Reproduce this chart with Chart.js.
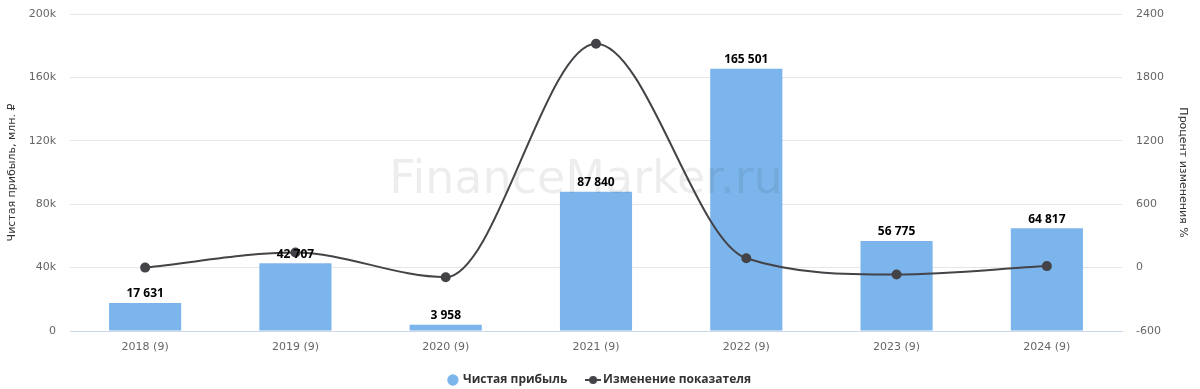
<!DOCTYPE html>
<html>
<head>
<meta charset="utf-8">
<script src="https://cdn.jsdelivr.net/npm/chart.js@4.4.1/dist/chart.umd.min.js"></script>
<style>
  html, body { margin: 0; padding: 0; background: #fff; }
  #wrap { width: 1200px; height: 389px; }
</style>
</head>
<body>
<div id="wrap"><canvas id="myChart" width="1200" height="389"></canvas></div>
<script>
const years = ['2018 (9)', '2019 (9)', '2020 (9)', '2021 (9)', '2022 (9)', '2023 (9)', '2024 (9)'];
const profit = [17631, 42707, 3958, 87840, 165501, 56775, 64817];
const change = [0, 142.2, -90.7, 2119.3, 88.4, -65.7, 14.2];
const leftTicks = [0, 40000, 80000, 120000, 160000, 200000];
const rightTicks = [-600, 0, 600, 1200, 1800, 2400];

const font = '"DejaVu Sans", Verdana, sans-serif';
const boldFont = '"Open Sans", "DejaVu Sans", sans-serif';
const ctx = document.getElementById('myChart').getContext('2d');

function fmt(n) {
    return String(n).replace(/\B(?=(\d{3})+(?!\d))/g, ' ');
}

// маркер легенды для линии: отрезок с точкой
function lineMarker() {
    const c = document.createElement('canvas');
    c.width = 16; c.height = 10;
    const g = c.getContext('2d');
    g.strokeStyle = '#434348';
    g.lineWidth = 2;
    g.beginPath(); g.moveTo(0, 5); g.lineTo(16, 5); g.stroke();
    g.fillStyle = '#434348';
    g.beginPath(); g.arc(8, 5, 4, 0, Math.PI * 2); g.fill();
    return c;
}

// водяной знак поверх столбцов, но под линией
const watermark = {
    id: 'watermark',
    afterDatasetDraw(chart, args) {
        if (args.index !== 1) return;
        const a = chart.chartArea;
        const c = chart.ctx;
        c.save();
        c.font = '46px ' + font;
        c.fillStyle = 'rgba(0,0,0,0.07)';
        c.textAlign = 'center';
        c.textBaseline = 'alphabetic';
        c.fillText('FinanceMarker.ru', (a.left + a.right) / 2 - 10, (a.top + a.bottom) / 2 + 20);
        c.restore();
    }
};

const barLabels = {
    id: 'barLabels',
    afterDatasetsDraw(chart) {
        const meta = chart.getDatasetMeta(1);
        const c = chart.ctx;
        c.save();
        c.font = 'bold 12px ' + boldFont;
        c.fillStyle = '#000';
        c.textAlign = 'center';
        c.textBaseline = 'bottom';
        meta.data.forEach((bar, i) => {
            c.fillText(fmt(profit[i]), bar.x, bar.y - 3);
        });
        c.restore();
    }
};

const myChart = new Chart(ctx, {
    type: 'bar',
    data: {
        labels: years,
        datasets: [{
            type: 'line',
            label: 'Изменение показателя',
            data: change,
            yAxisID: 'y1',
            borderColor: '#434348',
            backgroundColor: '#434348',
            borderWidth: 2,
            pointRadius: 4,
            pointHoverRadius: 4,
            pointStyle: 'circle',
            cubicInterpolationMode: 'monotone',
            order: 0
        }, {
            label: 'Чистая прибыль',
            data: profit,
            yAxisID: 'y',
            backgroundColor: '#7cb5ec',
            borderColor: '#7cb5ec',
            borderWidth: 0,
            categoryPercentage: 1,
            barPercentage: 0.48,
            order: 1
        }]
    },
    options: {
        responsive: false,
        animation: false,
        layout: { padding: { top: 14, bottom: -7, left: 0, right: 0 } },
        plugins: {
            tooltip: { enabled: false },
            legend: {
                position: 'bottom',
                reverse: true,
                labels: {
                    usePointStyle: true,
                    boxWidth: 8,
                    boxHeight: 8,
                    padding: 3,
                    color: '#333333',
                    font: { family: boldFont, size: 12, weight: 'bold' },
                    generateLabels(chart) {
                        const items = Chart.defaults.plugins.legend.labels.generateLabels(chart);
                        items.forEach(it => {
                            if (it.datasetIndex === 0) it.pointStyle = lineMarker();
                            else { it.pointStyle = 'circle'; it.lineWidth = 0; it.text = it.text + '      '; }
                        });
                        return items;
                    }
                }
            }
        },
        scales: {
            x: {
                grid: { display: false, drawTicks: false },
                border: { color: '#ccd6eb' },
                ticks: { color: '#666666', font: { family: font, size: 11 }, padding: 10 },
                afterFit(scale) { scale.height = 40; }
            },
            y: {
                position: 'left',
                min: 0, max: 200000,
                afterBuildTicks(scale) { scale.ticks = leftTicks.map(v => ({ value: v })); },
                grid: { color: '#e6e6e6', drawTicks: true, tickLength: 11, tickColor: 'rgba(0,0,0,0)' },
                border: { display: false },
                ticks: {
                    color: '#666666', font: { family: font, size: 11 }, padding: 3,
                    callback: v => v === 0 ? '0' : (v / 1000) + 'k'
                },
                title: {
                    display: true, text: 'Чистая прибыль, млн. ₽', color: '#333333',
                    font: { family: font, size: 11 }, padding: { top: 6, bottom: 0 }
                },
                afterFit(scale) { scale.width = 70; }
            },
            y1: {
                position: 'right',
                min: -600, max: 2400,
                afterBuildTicks(scale) { scale.ticks = rightTicks.map(v => ({ value: v })); },
                grid: { color: 'rgba(0,0,0,0)', drawOnChartArea: false, drawTicks: true, tickLength: 11, tickColor: 'rgba(0,0,0,0)' },
                border: { display: false },
                ticks: {
                    color: '#666666', font: { family: font, size: 11 }, padding: 3,
                    callback: v => String(v)
                },
                title: {
                    display: true, text: 'Процент изменения %', color: '#333333',
                    font: { family: font, size: 11 }, padding: { top: 11, bottom: 0 }
                },
                afterFit(scale) { scale.width = 78; }
            }
        }
    },
    plugins: [watermark, barLabels]
});
</script>
</body>
</html>
